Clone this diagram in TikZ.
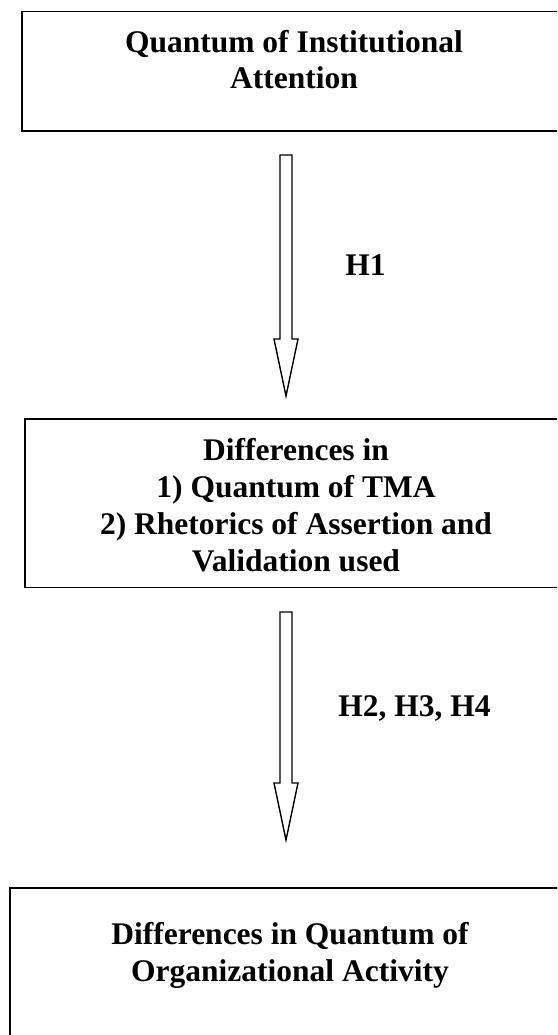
\documentclass[tikz,border=0pt]{standalone}
\usepackage{fontspec}
\setmainfont{Liberation Serif}
\usetikzlibrary{calc}
\tikzset{
  frame/.style={draw=black, line width=1.8pt, inner sep=0pt, outer sep=0pt, anchor=north west},
  caption/.style={font=\bfseries\fontsize{31.5}{36.8}\selectfont, align=center, inner sep=0pt, anchor=base},
  hyp/.style={font=\bfseries\fontsize{31.5}{36.8}\selectfont, inner sep=0pt, anchor=base},
  hollow/.style={draw=black, line width=1.4pt, line join=miter, fill=white},
}
% hollow block arrow from shaft top #1 down to tip #2
\newcommand\hollowarrow[2]{%
  \draw[hollow] ($(#1)+(-6,0)$) -- ($(#2)+(-6,57)$) -- ($(#2)+(-12,57)$) -- (#2)
    -- ($(#2)+(12,57)$) -- ($(#2)+(6,57)$) -- ($(#1)+(6,0)$) -- cycle;}

\begin{document}
\begin{tikzpicture}[x=1pt,y=1pt]
\useasboundingbox (0,0) rectangle (557,-1035);
\clip (0,0) rectangle (557,-1035);

% boxes
\node[frame, minimum width=560pt, minimum height=119.5pt] (b1) at (22,-11.5) {};
\node[frame, minimum width=560pt, minimum height=168.5pt] (b2) at (25,-419) {};
\node[frame, minimum width=570pt, minimum height=200pt] (b3) at (10,-888) {};

% box texts (anchored at the baseline of their last line)
\node[caption] (t1) at (294,-89) {Quantum of Institutional\\Attention};
\node[caption] (t2) at (296,-571) {Differences in\\1) Quantum of TMA\\2) Rhetorics of Assertion and\\Validation used};
\node[caption] (t3) at (290,-981) {Differences in Quantum of\\Organizational Activity};

% arrows between the boxes
\coordinate (axis) at (286,0);
\coordinate (s1) at ($(axis |- b1.south)+(0,-24)$);
\coordinate (e1) at ($(axis |- b2.north)+(0,23)$);
\coordinate (s2) at ($(axis |- b2.south)+(0,-24.5)$);
\coordinate (e2) at ($(axis |- b3.north)+(0,48)$);
\hollowarrow{s1}{e1}
\hollowarrow{s2}{e2}

% hypothesis labels
\node[hyp] (h1) at (365.5,-275) {H1};
\node[hyp] (h2) at (414.5,-716) {H2, H3, H4};
\end{tikzpicture}
\end{document}
